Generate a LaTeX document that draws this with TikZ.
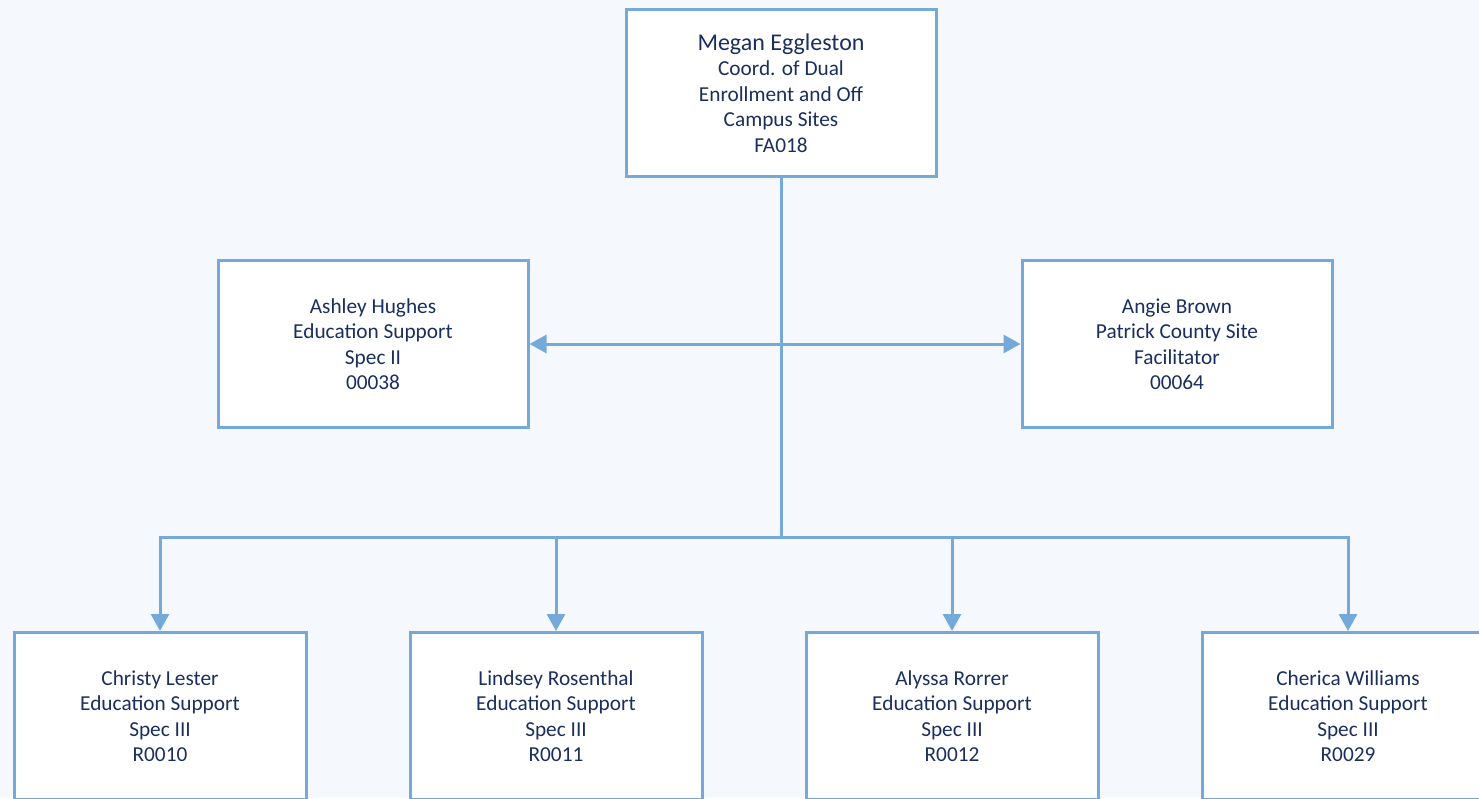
\documentclass[tikz,border=0pt]{standalone}
\usepackage{fontspec}
\setmainfont{Carlito}
\usetikzlibrary{arrows.meta}
\definecolor{linkblue}{HTML}{75A9D9}
\definecolor{pagebg}{HTML}{F5F8FC}
\definecolor{navytext}{HTML}{1B2F5E}
\begin{document}
\begin{tikzpicture}[x=1pt,y=-1pt,every node/.style={font=\fontsize{21.3}{25.5}\selectfont,text=navytext},
  post/.style={draw=linkblue,line width=3pt,fill=white,minimum width=310pt,minimum height=167pt,align=center,inner sep=0pt},
  leaf/.style={post,minimum width=292pt},
  wire/.style={draw=linkblue,line width=3pt},
  link/.style={wire,-{Triangle[width=18pt,length=17pt]}}]
  \fill[pagebg] (0,0) rectangle (1479,798);
  \clip (0,0) rectangle (1479,798);
  \node[post] (eggleston) at (781,93) {{\fontsize{24}{25.5}\selectfont Megan Eggleston}\\Coord. of Dual\\Enrollment and Off\\Campus Sites\\FA018};
  \node[post] (hughes) at (373,344) {Ashley Hughes\\Education Support\\Spec II\\00038};
  \node[post] (brown) at (1177,344) {Angie Brown\\Patrick County Site\\Facilitator\\00064};
  \node[leaf] (lester) at (160,716) {Christy Lester\\Education Support\\Spec III\\R0010};
  \node[leaf] (rosenthal) at (556,716) {Lindsey Rosenthal\\Education Support\\Spec III\\R0011};
  \node[leaf] (rorrer) at (952,716) {Alyssa Rorrer\\Education Support\\Spec III\\R0012};
  \node[leaf] (williams) at (1348,716) {Cherica Williams\\Education Support\\Spec III\\R0029};
  \coordinate (fork) at (781,344);
  \coordinate (bus) at (781,537);
  \draw[wire] (eggleston.south) -- (bus);
  \draw[link] (fork) -- (hughes.east);
  \draw[link] (fork) -- (brown.west);
  \draw[link] (bus) -| (lester.north);
  \draw[link] (bus) -| (rosenthal.north);
  \draw[link] (bus) -| (rorrer.north);
  \draw[link] (bus) -| (williams.north);
\end{tikzpicture}
\end{document}
